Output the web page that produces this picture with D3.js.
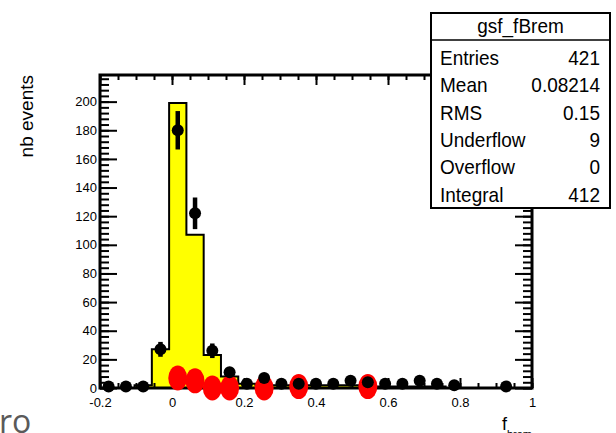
<!DOCTYPE html>
<html>
<head>
<meta charset="utf-8">
<script src="https://cdn.jsdelivr.net/npm/d3@7"></script>
<style>
  body { margin: 0; background: #fff; }
  svg { display: block; }
  text { font-family: "Liberation Sans", Arial, Helvetica, sans-serif; }
</style>
</head>
<body>
<svg id="chart" width="616" height="433"></svg>
<script>
// gsf_fBrem: 25 bins between -0.2 and 1 (width 0.048)
const binWidth = 0.048;
const binCenters = [-0.176, -0.128, -0.08, -0.032, 0.016, 0.064, 0.112, 0.16, 0.208, 0.256,
                    0.304, 0.352, 0.4, 0.448, 0.496, 0.544, 0.592, 0.64, 0.688, 0.736,
                    0.784, 0.832, 0.88, 0.928, 0.976];
// reference histogram (filled)
const refCounts = [0, 0, 2, 27, 199, 107, 23, 8, 3, 2, 2, 2, 2, 2, 2, 1, 1, 1, 1, 1, 0, 0, 0, 0, 0];
// data points with sqrt(N) errors
const dataCounts = [1, 1, 1, 27, 180, 122, 26, 11, 3, 7, 3, 3, 3, 3, 5, 4, 3, 3, 5, 3, 2, 0, 0, 1, 0];
// highlighted points
const redX = [0.016, 0.064, 0.112, 0.16, 0.256, 0.352, 0.544];
const redY = [7, 5, 0, 0, 0, 1, 1];

const xMajorTicks = [-0.2, 0, 0.2, 0.4, 0.6, 0.8, 1];
const xTickLabels = ["-0.2", "0", "0.2", "0.4", "0.6", "0.8", "1"];
const yMajorTicks = [0, 20, 40, 60, 80, 100, 120, 140, 160, 180, 200];

const statTitle = "gsf_fBrem";
const statNames = ["Entries", "Mean", "RMS", "Underflow", "Overflow", "Integral"];
const statValues = ["421", "0.08214", "0.15", "9", "0", "412"];

const svg = d3.select("#chart");
const L = 100, R = 532, T = 75, B = 388;

const x = d3.scaleLinear().domain([-0.2, 1]).range([L, R]);
const y = d3.scaleLinear().domain([0, 218.6]).range([B, T]);

// filled histogram
const steps = [];
steps.push([binCenters[0] - binWidth / 2, 0]);
binCenters.forEach((c, i) => {
  steps.push([c - binWidth / 2, refCounts[i]]);
  steps.push([c + binWidth / 2, refCounts[i]]);
});
steps.push([binCenters[binCenters.length - 1] + binWidth / 2, 0]);
const line = d3.line().x(d => x(d[0])).y(d => y(d[1]));
svg.append("path")
  .attr("d", line(steps) + "Z")
  .attr("fill", "#ffff00")
  .attr("stroke", "#000")
  .attr("stroke-width", 2)
  .attr("stroke-linejoin", "miter");

// frame
svg.append("rect")
  .attr("x", L).attr("y", T).attr("width", R - L).attr("height", B - T)
  .attr("fill", "none").attr("stroke", "#000").attr("stroke-width", 3);

// axes with inward ticks
function styleAxis(g) {
  g.select(".domain").remove();
  g.selectAll(".tick line").attr("stroke", "#000").attr("stroke-width", 2);
  g.selectAll("text").attr("fill", "#000")
    .style("font-family", "'Liberation Sans', Arial, sans-serif")
    .style("font-size", "13px");
}
const xMinor = d3.range(-0.2, 1.0001, 0.05);
const yMinor = d3.range(0, 218, 4);

svg.append("g").attr("transform", `translate(0,${B})`)
  .call(d3.axisBottom(x).tickValues(xMinor).tickSize(-5).tickFormat(""))
  .call(styleAxis);
svg.append("g").attr("transform", `translate(0,${B})`)
  .call(d3.axisBottom(x).tickValues(xMajorTicks).tickSize(-10).tickPadding(9.5)
        .tickFormat((d, i) => xTickLabels[i]))
  .call(styleAxis);
svg.append("g").attr("transform", `translate(0,${T})`)
  .call(d3.axisTop(x).tickValues(xMinor).tickSize(-5).tickFormat(""))
  .call(styleAxis);
svg.append("g").attr("transform", `translate(0,${T})`)
  .call(d3.axisTop(x).tickValues(xMajorTicks).tickSize(-10).tickFormat(""))
  .call(styleAxis);

svg.append("g").attr("transform", `translate(${L},0)`)
  .call(d3.axisLeft(y).tickValues(yMinor).tickSize(-9).tickFormat(""))
  .call(styleAxis);
svg.append("g").attr("transform", `translate(${L},0)`)
  .call(d3.axisLeft(y).tickValues(yMajorTicks).tickSize(-17).tickPadding(3))
  .call(styleAxis);
svg.append("g").attr("transform", `translate(${R},0)`)
  .call(d3.axisRight(y).tickValues(yMinor).tickSize(-9).tickFormat(""))
  .call(styleAxis);
svg.append("g").attr("transform", `translate(${R},0)`)
  .call(d3.axisRight(y).tickValues(yMajorTicks).tickSize(-17).tickFormat(""))
  .call(styleAxis);

// highlighted points
svg.append("g").selectAll("ellipse")
  .data(redX.map((v, i) => [v, redY[i]]))
  .join("ellipse")
  .attr("cx", d => x(d[0]))
  .attr("cy", d => y(d[1]))
  .attr("rx", 9.5).attr("ry", 12.5)
  .attr("fill", "#ff0000");

// data points with error bars
const pts = binCenters.map((c, i) => [c, dataCounts[i]]).filter(d => d[1] > 0);
const gp = svg.append("g");
gp.selectAll("line")
  .data(pts)
  .join("line")
  .attr("x1", d => x(d[0])).attr("x2", d => x(d[0]))
  .attr("y1", d => y(d[1] + Math.sqrt(d[1])))
  .attr("y2", d => y(d[1] - Math.sqrt(d[1])))
  .attr("stroke", "#000").attr("stroke-width", 4.5);
gp.selectAll("circle")
  .data(pts)
  .join("circle")
  .attr("cx", d => x(d[0]))
  .attr("cy", d => y(d[1]))
  .attr("r", 6)
  .attr("fill", "#000");

// axis titles
svg.append("text")
  .attr("transform", `translate(33,${T}) rotate(-90)`)
  .attr("text-anchor", "end")
  .style("font-size", "19px")
  .text("nb events");

const xt = svg.append("text")
  .attr("x", R).attr("y", 430)
  .attr("text-anchor", "end")
  .style("font-size", "18px");
xt.append("tspan").text("f");
xt.append("tspan").attr("dy", 8).style("font-size", "11px").text("brem");

// statistics box (text slightly stretched vertically)
const bx = 431, by = 13, bw = 179, bh = 195;
svg.append("rect")
  .attr("x", bx).attr("y", by).attr("width", bw).attr("height", bh)
  .attr("fill", "#fff").attr("stroke", "#000").attr("stroke-width", 2);
svg.append("line")
  .attr("x1", bx).attr("x2", bx + bw).attr("y1", 40).attr("y2", 40)
  .attr("stroke", "#000").attr("stroke-width", 1.5);
svg.append("text")
  .attr("transform", `translate(${bx + bw / 2},33) scale(1,1.1)`)
  .attr("text-anchor", "middle")
  .style("font-size", "19px")
  .text(statTitle);
const rowY = d3.scaleLinear().domain([0, 5]).range([65, 201.5]);
svg.append("g").selectAll("text")
  .data(statNames)
  .join("text")
  .attr("transform", (d, i) => `translate(440,${rowY(i)}) scale(1,1.1)`)
  .style("font-size", "19px")
  .text(d => d);
svg.append("g").selectAll("text")
  .data(statValues)
  .join("text")
  .attr("transform", (d, i) => `translate(600,${rowY(i)}) scale(1,1.1)`)
  .attr("text-anchor", "end")
  .style("font-size", "19px")
  .text(d => d);

// page text below the chart
svg.append("text")
  .attr("x", -1).attr("y", 433)
  .attr("fill", "#5a5a5a")
  .style("font-family", "'Open Sans', 'Noto Sans', sans-serif")
  .style("font-size", "32px")
  .text("ro");
</script>
</body>
</html>
